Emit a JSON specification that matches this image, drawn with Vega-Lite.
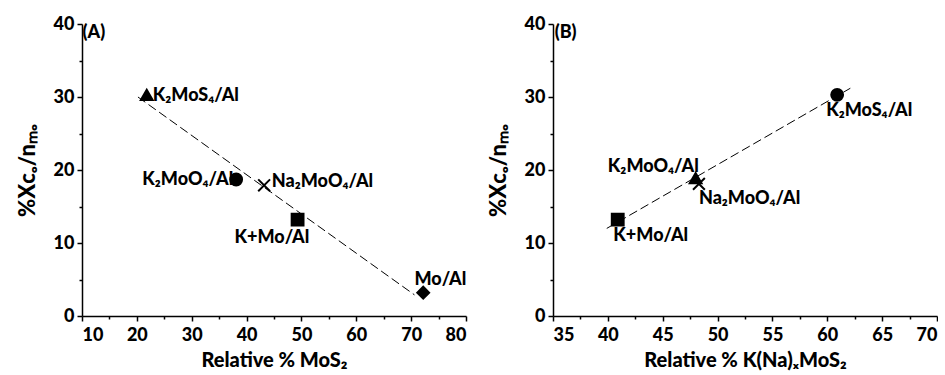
{
  "$schema": "https://vega.github.io/schema/vega-lite/v6.json",
  "background": "white",
  "padding": {"left": 16, "top": 15, "right": 0, "bottom": 2},
  "spacing": 20,
  "config": {
    "font": "Lato",
    "view": {"stroke": null},
    "axis": {
      "grid": false,
      "domainColor": "black",
      "domainWidth": 1.5,
      "tickColor": "black",
      "tickWidth": 1.5,
      "labelColor": "black",
      "labelFont": "Lato",
      "labelFontSize": 18,
      "labelFontWeight": 900,
      "titleColor": "black",
      "titleFont": "Lato",
      "titleFontWeight": 900,
      "titleFontSize": 20
    },
    "axisX": {"labelPadding": 5, "titlePadding": 6},
    "axisY": {"labelPadding": 3, "titlePadding": 14}
  },
  "datasets": {
    "pointsA": [
      {"catalyst": "K2MoS4/Al", "mos2": 21.8, "xco": 30.3},
      {"catalyst": "K2MoO4/Al", "mos2": 38.1, "xco": 18.7},
      {"catalyst": "Na2MoO4/Al", "mos2": 43.2, "xco": 17.9},
      {"catalyst": "K+Mo/Al", "mos2": 49.3, "xco": 13.2},
      {"catalyst": "Mo/Al", "mos2": 72.2, "xco": 3.2}
    ],
    "fitA": [
      {"mos2": 20.2, "xco": 30.0},
      {"mos2": 70.6, "xco": 2.9}
    ],
    "labelsA": [
      {"label": "K₂MoS₄/Al", "mos2": 22.9, "xco": 30.2},
      {"label": "K₂MoO₄/Al", "mos2": 21.0, "xco": 18.6},
      {"label": "Na₂MoO₄/Al", "mos2": 44.6, "xco": 18.3},
      {"label": "K+Mo/Al", "mos2": 37.8, "xco": 10.7},
      {"label": "Mo/Al", "mos2": 70.6, "xco": 5.0},
      {"label": "(A)", "mos2": 10.1, "xco": 38.7}
    ],
    "pointsB": [
      {"catalyst": "K2MoS4/Al", "kmos2": 60.9, "xco": 30.3},
      {"catalyst": "K2MoO4/Al", "kmos2": 48.0, "xco": 18.9},
      {"catalyst": "Na2MoO4/Al", "kmos2": 48.3, "xco": 18.1},
      {"catalyst": "K+Mo/Al", "kmos2": 40.9, "xco": 13.2}
    ],
    "fitB": [
      {"kmos2": 39.9, "xco": 12.0},
      {"kmos2": 62.1, "xco": 31.2}
    ],
    "labelsB": [
      {"label": "K₂MoS₄/Al", "kmos2": 59.9, "xco": 28.1},
      {"label": "K₂MoO₄/Al", "kmos2": 40.0, "xco": 20.4},
      {"label": "Na₂MoO₄/Al", "kmos2": 48.3, "xco": 16.0},
      {"label": "K+Mo/Al", "kmos2": 40.5, "xco": 10.9},
      {"label": "(B)", "kmos2": 35.15, "xco": 38.7}
    ]
  },
  "resolve": {"scale": {"x": "independent", "y": "independent", "shape": "independent"}},
  "hconcat": [
    {
      "width": 384,
      "height": 292,
      "encoding": {
        "x": {
          "field": "mos2",
          "type": "quantitative",
          "scale": {"domain": [10, 80], "nice": false, "zero": false},
          "axis": {
            "title": "Relative % MoS₂",
            "values": [10, 15, 20, 25, 30, 35, 40, 45, 50, 55, 60, 65, 70, 75, 80],
            "labelExpr": "datum.value % 10 === 0 ? datum.label : ''",
            "tickSize": {"condition": {"test": "datum.value % 10 === 0", "value": 5}, "value": 3}
          }
        },
        "y": {
          "field": "xco",
          "type": "quantitative",
          "scale": {"domain": [0, 40], "nice": false, "zero": true},
          "axis": {
            "title": "%Xᴄₒ/nₘₒ",
            "titleFontSize": 22,
            "values": [0, 5, 10, 15, 20, 25, 30, 35, 40],
            "labelExpr": "datum.value % 10 === 0 ? datum.label : ''",
            "tickSize": {"condition": {"test": "datum.value % 10 === 0", "value": 5}, "value": 3}
          }
        }
      },
      "layer": [
        {
          "data": {"name": "fitA"},
          "mark": {"type": "line", "color": "black", "strokeWidth": 1, "strokeDash": [9, 4]}
        },
        {
          "data": {"name": "pointsA"},
          "mark": {"type": "point", "filled": true, "color": "black", "stroke": "black", "strokeWidth": 2, "size": 140, "opacity": 1},
          "encoding": {
            "shape": {
              "field": "catalyst",
              "type": "nominal",
              "scale": {
                "domain": ["K2MoS4/Al", "K2MoO4/Al", "Na2MoO4/Al", "K+Mo/Al", "Mo/Al"],
                "range": ["triangle-up", "circle", "M-1,-1L1,1M-1,1L1,-1", "square", "diamond"]
              },
              "legend": null
            }
          }
        },
        {
          "data": {"name": "labelsA"},
          "mark": {"type": "text", "align": "left", "baseline": "middle", "fontSize": 18, "fontWeight": 900, "font": "Lato", "color": "black"},
          "encoding": {"text": {"field": "label", "type": "nominal"}}
        }
      ]
    },
    {
      "width": 384,
      "height": 292,
      "encoding": {
        "x": {
          "field": "kmos2",
          "type": "quantitative",
          "scale": {"domain": [35, 70], "nice": false, "zero": false},
          "axis": {
            "title": "Relative % K(Na)ₓMoS₂",
            "values": [35, 37.5, 40, 42.5, 45, 47.5, 50, 52.5, 55, 57.5, 60, 62.5, 65, 67.5, 70],
            "labelExpr": "datum.value % 5 === 0 ? datum.label : ''",
            "tickSize": {"condition": {"test": "datum.value % 5 === 0", "value": 5}, "value": 3}
          }
        },
        "y": {
          "field": "xco",
          "type": "quantitative",
          "scale": {"domain": [0, 40], "nice": false, "zero": true},
          "axis": {
            "title": "%Xᴄₒ/nₘₒ",
            "titleFontSize": 22,
            "values": [0, 5, 10, 15, 20, 25, 30, 35, 40],
            "labelExpr": "datum.value % 10 === 0 ? datum.label : ''",
            "tickSize": {"condition": {"test": "datum.value % 10 === 0", "value": 5}, "value": 3}
          }
        }
      },
      "layer": [
        {
          "data": {"name": "fitB"},
          "mark": {"type": "line", "color": "black", "strokeWidth": 1, "strokeDash": [9, 4]}
        },
        {
          "data": {"name": "pointsB"},
          "mark": {"type": "point", "filled": true, "color": "black", "stroke": "black", "strokeWidth": 2, "size": 140, "opacity": 1},
          "encoding": {
            "shape": {
              "field": "catalyst",
              "type": "nominal",
              "scale": {
                "domain": ["K2MoS4/Al", "K2MoO4/Al", "Na2MoO4/Al", "K+Mo/Al"],
                "range": ["circle", "triangle-up", "M-1,-1L1,1M-1,1L1,-1", "square"]
              },
              "legend": null
            }
          }
        },
        {
          "data": {"name": "labelsB"},
          "mark": {"type": "text", "align": "left", "baseline": "middle", "fontSize": 18, "fontWeight": 900, "font": "Lato", "color": "black"},
          "encoding": {"text": {"field": "label", "type": "nominal"}}
        }
      ]
    }
  ]
}
